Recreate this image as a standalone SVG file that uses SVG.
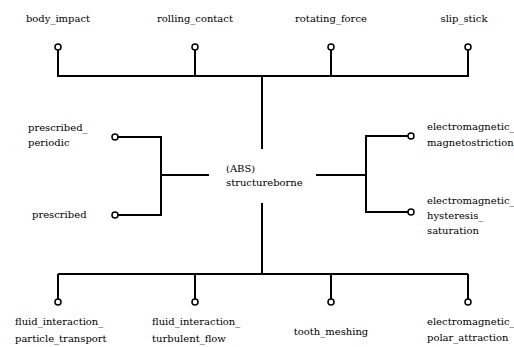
<svg xmlns="http://www.w3.org/2000/svg" width="514" height="347" viewBox="0 0 514 347">
<style>
  .lbl { font-family: 'DejaVu Serif', 'Liberation Serif', serif; font-size: 10px; fill: #000; }
  .wire { fill: none; stroke: #000; stroke-width: 2; }
  .port { fill: #fff; stroke: #000; stroke-width: 1.5; }
  .c { text-anchor: middle; }
</style>
<rect width="514" height="347" fill="#fff"/>
<g id="connectors">
  <!-- top bus -->
  <path class="wire" d="M58 50V76H468V50M195 50V76M331 50V76M262 76V149"/>
  <!-- bottom bus -->
  <path class="wire" d="M262 203V274M58 274H468M58 274V299M195 274V299M331 274V299M468 274V299"/>
  <!-- left fork -->
  <path class="wire" d="M118 137H161V215H118M161 175H209"/>
  <!-- right fork -->
  <path class="wire" d="M316 175H366M408 136H366V212H408"/>
</g>
<g class="lbl">
<g id="center">
  <text x="226" y="172">(ABS)</text>
  <text x="226" y="186">structureborne</text>
</g>
<g id="body_impact">
  <circle class="port" cx="58" cy="47" r="3"/>
  <text class="c" x="58" y="22">body_impact</text>
</g>
<g id="rolling_contact">
  <circle class="port" cx="195" cy="47" r="3"/>
  <text class="c" x="195" y="22">rolling_contact</text>
</g>
<g id="rotating_force">
  <circle class="port" cx="331" cy="47" r="3"/>
  <text class="c" x="331" y="22">rotating_force</text>
</g>
<g id="slip_stick">
  <circle class="port" cx="468" cy="47" r="3"/>
  <text class="c" x="464" y="22">slip_stick</text>
</g>
<g id="prescribed_periodic">
  <circle class="port" cx="115" cy="137" r="3"/>
  <text x="28" y="131">prescribed_</text>
  <text x="28" y="146">periodic</text>
</g>
<g id="prescribed">
  <circle class="port" cx="115" cy="215" r="3"/>
  <text x="32" y="218">prescribed</text>
</g>
<g id="electromagnetic_magnetostriction">
  <circle class="port" cx="411" cy="136" r="3"/>
  <text x="427" y="130">electromagnetic_</text>
  <text x="427" y="146">magnetostriction</text>
</g>
<g id="electromagnetic_hysteresis_saturation">
  <circle class="port" cx="411" cy="212" r="3"/>
  <text x="427" y="204">electromagnetic_</text>
  <text x="427" y="219">hysteresis_</text>
  <text x="427" y="234">saturation</text>
</g>
<g id="fluid_interaction_particle_transport">
  <circle class="port" cx="58" cy="302" r="3"/>
  <text x="15" y="325">fluid_interaction_</text>
  <text x="15" y="342">particle_transport</text>
</g>
<g id="fluid_interaction_turbulent_flow">
  <circle class="port" cx="195" cy="302" r="3"/>
  <text x="152" y="325">fluid_interaction_</text>
  <text x="152" y="342">turbulent_flow</text>
</g>
<g id="tooth_meshing">
  <circle class="port" cx="331" cy="302" r="3"/>
  <text class="c" x="331" y="335">tooth_meshing</text>
</g>
<g id="electromagnetic_polar_attraction">
  <circle class="port" cx="468" cy="302" r="3"/>
  <text x="427" y="325">electromagnetic_</text>
  <text x="427" y="341">polar_attraction</text>
</g>
</g>
</svg>
